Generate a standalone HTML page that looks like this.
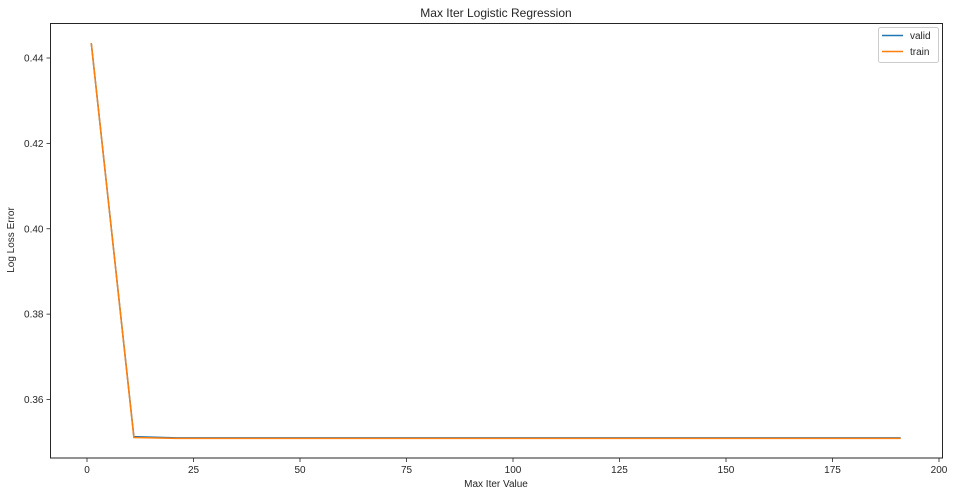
<!DOCTYPE html>
<html><head><meta charset="utf-8"><style>
body{margin:0;background:#fff;}
svg text{font-family:"Liberation Sans","DejaVu Sans",sans-serif;fill:#262626;}
</style></head><body>
<svg id="chart" width="957" height="496" xmlns="http://www.w3.org/2000/svg">
<text x="496" y="17" font-size="12" text-anchor="middle">Max Iter Logistic Regression</text>
<g id="plot"></g>
<text x="496" y="487" font-size="10" text-anchor="middle">Max Iter Value</text>
<text x="0" y="0" font-size="10" text-anchor="middle" transform="translate(14,240) rotate(-90)">Log Loss Error</text>
<g>
<rect x="878.5" y="27.5" width="60" height="35" rx="2" fill="#fff" stroke="#ccc"/>
<line x1="882" y1="35.5" x2="903" y2="35.5" stroke="#1f77b4" stroke-width="1.5"/>
<text x="910" y="39" font-size="10">valid</text>
<line x1="882" y1="51.5" x2="903" y2="51.5" stroke="#ff7f0e" stroke-width="1.5"/>
<text x="910" y="55" font-size="10">train</text>
</g>
</svg>
<script>
const xValues=[1,11,21,31,41,51,61,71,81,91,101,111,121,131,141,151,161,171,181,191];
const validValues=[0.4435,0.3513,0.3510,0.3510,0.3510,0.3510,0.3510,0.3510,0.3510,0.3510,0.3510,0.3510,0.3510,0.3510,0.3510,0.3510,0.3510,0.3510,0.3510,0.3510];
const trainValues=[0.4435,0.3511,0.3509,0.3509,0.3509,0.3509,0.3509,0.3509,0.3509,0.3509,0.3509,0.3509,0.3509,0.3509,0.3509,0.3509,0.3509,0.3509,0.3509,0.3509];
const xTicks=[0,25,50,75,100,125,150,175,200];
const yTicks=[0.36,0.38,0.40,0.42,0.44];
const L=50.5,R=942.5,T=23.5,B=458;
const xs=v=>87+(v-0)*(939-87)/200;
const ys=v=>399.5-(v-0.36)*(399.5-58)/0.08;
const ns='http://www.w3.org/2000/svg';
const g=document.getElementById('plot');
function mk(t,a){const e=document.createElementNS(ns,t);for(const k in a)e.setAttribute(k,a[k]);g.appendChild(e);return e;}
xTicks.forEach(t=>{const x=xs(t);
 const l=mk('line',{x1:x,y1:B,x2:x,y2:B+4,stroke:'#262626','stroke-width':0.8});
 
 
 const tx=mk('text',{x:x,y:B+15,'font-size':10,'text-anchor':'middle'});tx.textContent=t;
 
 });
yTicks.forEach(t=>{const y=ys(t);
 const l=mk('line',{x1:L-4,y1:y,x2:L,y2:y,stroke:'#262626','stroke-width':0.8});
 
 
 const tx=mk('text',{x:L-7,y:y+3.5,'font-size':10,'text-anchor':'end'});tx.textContent=t.toFixed(2);
 
 });
function line(vals,color,name){const p=mk('polyline',{points:xValues.map((x,i)=>xs(x)+','+ys(vals[i])).join(' '),fill:'none',stroke:color,'stroke-width':1.5});
 
 }
line(validValues,'#1f77b4','valid-line');
line(trainValues,'#ff7f0e','train-line');
const fr=mk('rect',{x:L,y:T,width:R-L,height:B-T,fill:'none',stroke:'#262626','stroke-width':1});


</script>
</body></html>
